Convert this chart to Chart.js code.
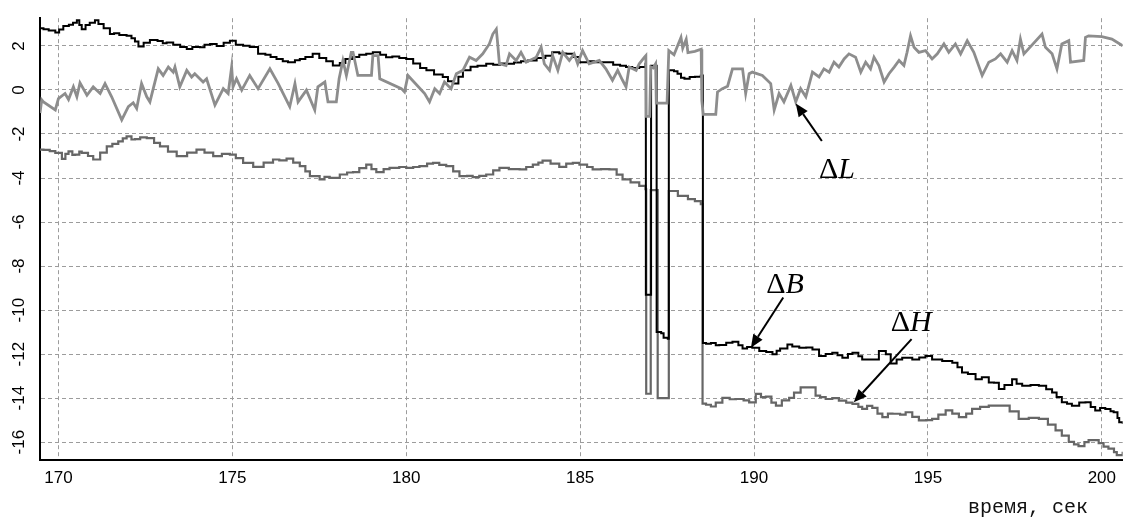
<!DOCTYPE html>
<html>
<head>
<meta charset="utf-8">
<script src="https://cdn.jsdelivr.net/npm/chart.js@4.4.1/dist/chart.umd.min.js"></script>
<style>
  html, body { margin: 0; padding: 0; background: #fff; }
  #wrap { width: 1124px; height: 519px; }
</style>
</head>
<body>
<div id="wrap"><canvas id="chart" width="1124" height="519"></canvas></div>
<script>
// ΔB — black trace
const timeB = [169.47,169.57,169.72,169.91,170.02,170.14,170.3,170.42,170.53,170.6,170.67,170.78,170.9,171.05,171.15,171.3,171.48,171.6,171.75,171.96,172.1,172.2,172.3,172.45,172.63,172.85,173.0,173.11,173.3,173.5,173.69,173.85,174.07,174.2,174.36,174.55,174.75,174.93,175.1,175.31,175.5,175.74,175.95,176.1,176.27,176.45,176.6,176.8,176.94,177.1,177.31,177.5,177.7,177.89,178.09,178.25,178.45,178.65,178.85,179.04,179.25,179.42,179.6,179.8,180.0,180.2,180.4,180.58,180.8,181.05,181.2,181.34,181.5,181.63,181.85,182.05,182.3,182.5,182.7,182.87,183.1,183.3,183.5,183.75,184.0,184.2,184.4,184.6,184.8,184.98,185.2,185.4,185.55,185.74,185.95,186.15,186.32,186.5,186.7,186.88,
  186.89,187.02,187.04,187.17,187.2,187.33,187.4,187.52,187.55,187.7,187.8,187.9,188.0,188.15,188.3,188.47,188.53,
  188.62,188.76,188.9,189.0,189.2,189.38,189.55,189.67,189.8,189.95,190.15,190.35,190.53,190.65,190.75,190.96,191.1,191.3,191.5,191.68,191.87,192.06,192.25,192.4,192.54,192.7,192.83,193.0,193.11,193.4,193.59,193.79,193.93,194.1,194.26,194.55,194.75,194.93,195.12,195.41,195.7,195.85,195.98,196.15,196.37,196.55,196.75,196.9,197.04,197.2,197.42,197.55,197.71,197.95,198.19,198.4,198.57,198.7,198.85,199.0,199.14,199.35,199.53,199.68,199.81,199.95,200.1,200.25,200.34,200.45,200.5,200.6];
const valB = [2.80,2.76,2.70,2.61,2.75,2.91,2.96,3.05,3.17,2.95,2.76,2.95,3.05,3.17,3.0,2.8,2.54,2.58,2.5,2.46,2.35,2.2,1.98,2.15,2.27,2.22,2.12,2.16,2.05,1.95,1.86,1.95,1.94,2.05,2.09,2.0,2.15,2.24,2.05,2.01,1.95,1.64,1.6,1.5,1.41,1.3,1.26,1.35,1.41,1.5,1.64,1.45,1.3,1.11,1.22,1.41,1.5,1.6,1.65,1.71,1.6,1.49,1.52,1.45,1.41,1.2,1.0,0.89,0.7,0.59,0.4,0.29,0.6,0.89,1.05,1.1,1.19,1.15,1.2,1.19,1.25,1.3,1.34,1.45,1.55,1.71,1.66,1.64,1.5,1.26,1.3,1.26,1.26,1.26,1.15,1.1,1.04,1.0,1.04,1.19,
  -9.3,-9.3,1.1,1.1,-11.0,-11.05,-11.26,-11.3,0.89,0.85,0.74,0.55,0.51,0.59,0.6,0.66,-11.5,
  -11.53,-11.5,-11.6,-11.59,-11.48,-11.44,-11.6,-11.74,-11.68,-11.71,-11.86,-11.9,-12.01,-11.85,-11.75,-11.56,-11.65,-11.71,-11.7,-11.79,-12.09,-12.0,-11.94,-12.05,-12.16,-12.0,-11.94,-12.1,-12.24,-12.24,-11.86,-12.01,-12.43,-12.25,-12.16,-12.24,-12.15,-12.09,-12.24,-12.31,-12.39,-12.6,-12.84,-12.9,-13.14,-13.05,-13.29,-13.3,-13.59,-13.4,-13.14,-13.35,-13.44,-13.4,-13.44,-13.6,-13.74,-13.95,-14.19,-14.25,-14.34,-14.2,-14.19,-14.4,-14.56,-14.45,-14.49,-14.6,-14.64,-14.9,-15.09,-15.16];

// ΔH — dark grey trace
const timeH = [169.47,169.57,169.75,169.91,170.1,170.2,170.29,170.4,170.48,170.6,170.67,170.85,171.0,171.2,171.39,171.55,171.72,171.85,171.96,172.1,172.2,172.35,172.54,172.75,172.92,173.15,173.4,173.7,173.97,174.2,174.45,174.7,174.93,175.1,175.31,175.6,175.9,176.17,176.35,176.56,176.75,176.94,177.1,177.23,177.51,177.65,177.8,178.09,178.3,178.47,178.65,178.85,179.0,179.14,179.35,179.52,179.8,180.0,180.2,180.38,180.6,180.77,180.95,181.15,181.35,181.53,181.75,181.91,182.1,182.3,182.5,182.68,182.95,183.26,183.45,183.64,183.8,183.92,184.15,184.4,184.6,184.79,184.98,185.2,185.36,185.6,185.84,186.05,186.22,186.45,186.7,186.88,
  186.9,187.0,187.03,187.2,187.23,187.52,187.55,187.81,188.1,188.3,188.47,188.52,
  188.62,188.76,188.9,189.09,189.3,189.48,189.7,189.86,190.05,190.2,190.34,190.5,190.63,190.8,191.01,191.15,191.34,191.58,191.77,191.9,192.06,192.25,192.44,192.65,192.83,193.0,193.11,193.25,193.4,193.55,193.69,193.85,193.98,194.2,194.36,194.55,194.74,194.95,195.12,195.3,195.51,195.7,195.89,196.1,196.27,196.5,196.75,197.13,197.35,197.61,197.9,198.19,198.45,198.67,198.85,199.05,199.2,199.33,199.5,199.62,199.91,200.05,200.19,200.35,200.43,200.6];
const valH = [-2.71,-2.72,-2.78,-2.86,-3.13,-2.9,-2.79,-2.95,-2.94,-2.8,-2.86,-3.0,-3.16,-2.85,-2.56,-2.45,-2.34,-2.2,-2.11,-2.25,-2.23,-2.15,-2.19,-2.4,-2.56,-2.8,-3.01,-2.85,-2.71,-2.85,-3.01,-2.9,-2.94,-3.1,-3.31,-3.49,-3.3,-3.16,-3.2,-3.12,-3.3,-3.46,-3.7,-3.91,-4.06,-3.95,-3.99,-3.84,-3.75,-3.73,-3.55,-3.39,-3.6,-3.73,-3.6,-3.54,-3.5,-3.54,-3.5,-3.46,-3.35,-3.31,-3.4,-3.46,-3.7,-3.91,-3.9,-3.96,-3.9,-3.84,-3.65,-3.54,-3.6,-3.61,-3.5,-3.39,-3.3,-3.21,-3.35,-3.49,-3.35,-3.31,-3.39,-3.5,-3.61,-3.6,-3.61,-3.85,-4.06,-4.2,-4.36,-4.51,
  -13.8,-13.8,-4.55,-4.55,-14.0,-14.0,-4.59,-4.81,-4.96,-5.05,-5.19,-14.25,
  -14.3,-14.38,-14.2,-13.99,-14.05,-14.04,-14.1,-14.19,-13.81,-13.95,-13.93,-14.2,-14.34,-14.1,-13.99,-13.75,-13.51,-13.51,-13.89,-13.95,-14.04,-14.0,-14.11,-14.2,-14.26,-14.4,-14.49,-14.35,-14.44,-14.7,-14.86,-14.7,-14.71,-14.75,-14.64,-14.85,-15.01,-15.0,-14.94,-14.75,-14.56,-14.7,-14.86,-14.7,-14.49,-14.4,-14.34,-14.34,-14.6,-14.94,-14.9,-14.94,-15.2,-15.46,-15.7,-15.99,-16.1,-16.18,-16.0,-15.91,-16.04,-16.2,-16.29,-16.45,-16.59,-16.44];

// ΔL — light grey trace
const timeL = [169.47,169.52,169.57,169.91,170.0,170.19,170.29,170.43,170.53,170.62,170.82,171.0,171.2,171.34,171.53,171.82,172.01,172.15,172.25,172.39,172.54,172.63,172.87,173.01,173.16,173.3,173.35,173.49,173.69,173.83,173.92,174.16,174.26,174.5,174.74,174.88,174.98,175.02,175.12,175.27,175.5,175.74,176.08,176.32,176.46,176.65,176.8,176.89,177.13,177.37,177.46,177.66,177.75,177.99,178.07,178.18,178.28,178.42,178.47,178.61,179.0,179.04,179.19,179.24,179.86,179.95,180.05,180.53,180.67,180.82,180.96,181.1,181.29,181.44,181.63,181.82,182.01,182.2,182.39,182.49,182.59,182.63,182.68,182.87,182.97,183.16,183.3,183.45,183.74,183.88,183.97,184.12,184.21,184.36,184.5,184.69,184.83,184.93,185.07,185.26,185.55,185.74,185.93,186.08,186.22,186.32,186.41,186.61,186.7,186.85,186.89,
  186.9,187.0,187.03,187.1,187.17,187.19,187.5,187.55,187.7,187.8,187.9,187.95,188.05,188.1,188.3,188.48,188.5,188.54,
  188.9,188.95,189.09,189.24,189.38,189.67,189.76,189.86,189.95,190.24,190.48,190.58,190.72,190.86,191.06,191.2,191.34,191.49,191.68,191.87,192.01,192.16,192.3,192.44,192.59,192.73,192.92,193.07,193.21,193.35,193.45,193.59,193.74,193.88,194.03,194.17,194.31,194.4,194.5,194.6,194.74,194.93,195.12,195.27,195.46,195.6,195.79,195.94,196.13,196.32,196.56,196.75,196.94,197.09,197.28,197.42,197.56,197.66,197.76,198.28,198.38,198.57,198.71,198.85,199.05,199.1,199.48,199.53,199.62,200.0,200.29,200.6];
const valL = [-1.05,-0.45,-0.54,-0.91,-0.39,-0.16,-0.43,0.14,-0.31,0.32,-0.24,0.14,-0.16,0.29,-0.31,-1.36,-0.76,-0.58,-0.84,0.29,-0.31,-0.54,0.96,0.66,1.04,0.81,1.04,0.14,0.89,0.59,0.74,0.36,0.51,-0.69,0.06,-0.16,1.04,0.14,0.51,-0.01,0.66,0.06,0.96,0.29,-0.16,-0.76,0.29,-0.54,-0.01,-0.91,0.14,0.36,-0.54,-0.54,0.51,1.34,0.66,1.71,1.71,0.66,0.66,1.56,1.56,0.51,0.06,-0.09,0.66,-0.16,-0.54,0.06,-0.16,0.36,0.06,0.74,0.89,1.49,1.34,1.64,2.09,2.54,2.76,2.09,1.19,1.11,1.64,1.34,1.71,1.26,1.49,1.94,1.19,0.89,1.56,0.89,1.71,1.34,1.64,1.19,1.79,1.19,1.34,0.96,0.44,0.89,0.44,0.14,1.04,0.89,1.19,1.49,1.56,
  -1.2,-1.2,1.05,1.0,1.19,-0.6,-0.6,1.79,1.6,2.0,2.39,1.9,2.3,1.7,1.75,1.85,-0.5,-1.11,
  -1.11,-0.09,0.06,0.17,0.96,0.96,-0.16,0.74,0.81,0.66,0.29,-0.91,-0.16,-0.54,0.21,-0.54,0.06,-0.31,0.81,0.59,0.96,0.81,1.26,1.04,1.41,1.64,1.49,0.81,1.26,0.96,1.49,1.11,0.36,0.74,1.04,1.34,1.11,1.71,2.46,1.94,1.71,1.79,1.41,1.64,2.09,1.71,2.09,1.64,2.24,1.71,0.66,1.26,1.41,1.64,1.26,1.79,1.34,2.31,1.64,2.54,1.94,1.64,0.96,2.09,2.24,1.26,1.34,2.39,2.46,2.42,2.31,2.01];

// Axis ticks
const xTicks = [170, 175, 180, 185, 190, 195, 200];
const yTicks = [2, 0, -2, -4, -6, -8, -10, -12, -14, -16];
const xTitle = 'время, сек';

// Series captions with their pointer arrows (data coordinates)
const captions = [
  { sym: 'L', x: 191.87, y: -3.99, from: [191.95, -2.32], to: [191.20, -0.61] },
  { sym: 'B', x: 190.35, y: -9.21, from: [190.84, -9.43], to: [189.91, -11.71] },
  { sym: 'H', x: 193.93, y: -10.96, from: [194.53, -11.32], to: [192.87, -14.19] }
];

function points(t, v) { return t.map((x, i) => ({ x: x, y: v[i] })); }

const captionPlugin = {
  id: 'captions',
  afterDatasetsDraw(chart) {
    const { ctx, scales: { x, y } } = chart;
    ctx.save();
    captions.forEach(c => {
      const x0 = x.getPixelForValue(c.from[0]), y0 = y.getPixelForValue(c.from[1]);
      const x1 = x.getPixelForValue(c.to[0]),   y1 = y.getPixelForValue(c.to[1]);
      const ang = Math.atan2(y1 - y0, x1 - x0);
      const head = 13, half = 5.5;
      const bx = x1 - head * Math.cos(ang), by = y1 - head * Math.sin(ang);
      ctx.strokeStyle = '#000';
      ctx.fillStyle = '#000';
      ctx.lineWidth = 2;
      ctx.beginPath(); ctx.moveTo(x0, y0); ctx.lineTo(bx, by); ctx.stroke();
      ctx.beginPath();
      ctx.moveTo(x1, y1);
      ctx.lineTo(bx + half * Math.sin(ang), by - half * Math.cos(ang));
      ctx.lineTo(bx - half * Math.sin(ang), by + half * Math.cos(ang));
      ctx.closePath(); ctx.fill();

      const tx = x.getPixelForValue(c.x), ty = y.getPixelForValue(c.y);
      ctx.textAlign = 'left';
      ctx.textBaseline = 'alphabetic';
      ctx.font = '30px "Liberation Serif"';
      ctx.fillText('\u0394', tx, ty);
      const w = ctx.measureText('\u0394').width;
      ctx.font = 'italic 30px "Liberation Serif"';
      ctx.fillText(c.sym, tx + w, ty);
    });
    ctx.font = '20px "Liberation Mono"';
    ctx.textAlign = 'right';
    ctx.textBaseline = 'alphabetic';
    ctx.fillStyle = '#111';
    ctx.fillText(xTitle, 1088, 513);
    ctx.restore();
  }
};

new Chart(document.getElementById('chart'), {
  type: 'line',
  data: {
    datasets: [
      { label: '\u0394L', data: points(timeL, valL), borderColor: '#8d8d8d', borderWidth: 2.8, order: 0 },
      { label: '\u0394B', data: points(timeB, valB), borderColor: '#000000', borderWidth: 2, stepped: true, order: 1 },
      { label: '\u0394H', data: points(timeH, valH), borderColor: '#666666', borderWidth: 2.2, stepped: true, order: 2 }
    ]
  },
  options: {
    responsive: false,
    animation: false,
    devicePixelRatio: 1,
    layout: { padding: { top: 14, left: 0, right: 0, bottom: 0 } },
    elements: { point: { radius: 0 }, line: { tension: 0, fill: false } },
    plugins: { legend: { display: false }, tooltip: { enabled: false } },
    scales: {
      x: {
        type: 'linear', min: 169.47, max: 200.6,
        afterBuildTicks: s => { s.ticks = xTicks.map(v => ({ value: v })); },
        afterFit: s => { s.height = 59; },
        grid: { color: '#9c9c9c', lineWidth: 1, drawTicks: false },
        border: { display: true, color: '#000', width: 2, dash: [4, 3] },
        ticks: { color: '#000', font: { family: 'Liberation Sans', size: 17 }, padding: 8, maxRotation: 0, autoSkip: false, callback: v => String(v) }
      },
      y: {
        type: 'linear', min: -16.81, max: 3.26,
        afterBuildTicks: s => { s.ticks = yTicks.map(v => ({ value: v })); },
        afterFit: s => { s.width = 40; },
        grid: { color: '#9c9c9c', lineWidth: 1, drawTicks: false },
        border: { display: true, color: '#000', width: 2, dash: [4, 3] },
        ticks: { color: '#000', font: { family: 'Liberation Sans', size: 17 }, padding: 8, minRotation: 90, maxRotation: 90, crossAlign: 'center', autoSkip: false, callback: v => String(v) }
      }
    }
  },
  plugins: [captionPlugin]
});
</script>
</body>
</html>
